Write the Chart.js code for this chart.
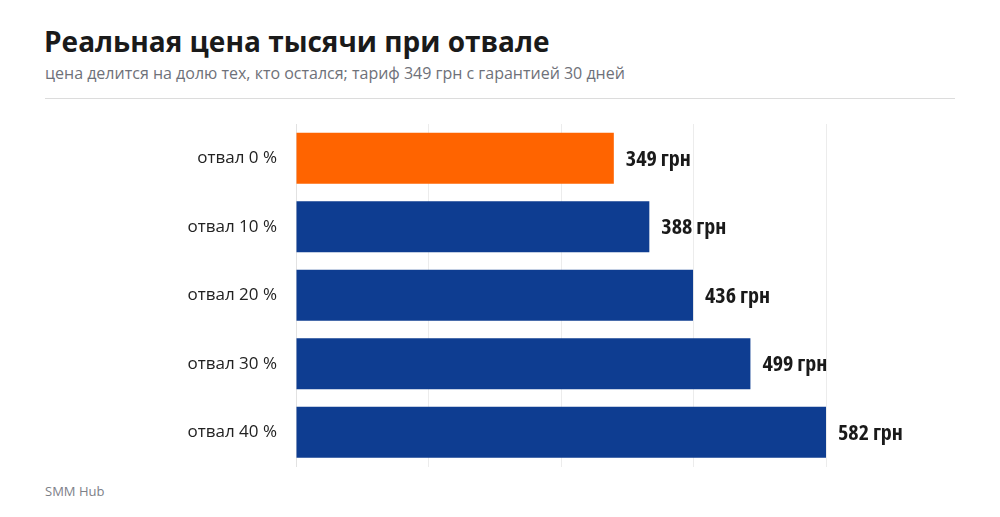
<!DOCTYPE html>
<html>
<head>
<meta charset="utf-8">
<script src="https://cdn.jsdelivr.net/npm/chart.js@4"></script>
<style>
  html, body { margin: 0; padding: 0; background: #fff; }
  body { width: 1000px; height: 517px; position: relative; overflow: hidden; font-family: 'Open Sans', sans-serif; }
  #title { position: absolute; left: 44px; top: 22px; font-size: 28px; font-weight: 700; color: #1a1a1a; white-space: nowrap; }
  #subtitle { position: absolute; left: 45px; top: 62px; font-size: 16px; color: #6e7179; white-space: nowrap; }
  #rule { position: absolute; left: 45px; top: 98px; width: 910px; height: 1px; background: #dcdcdc; }
  #footer { position: absolute; left: 45px; top: 482px; font-size: 13px; color: #7d8088; }
  #wrap { position: absolute; left: 0; top: 110px; width: 1000px; height: 370px; }
</style>
</head>
<body>
<div id="title">Реальная цена тысячи при отвале</div>
<div id="subtitle">цена делится на долю тех, кто остался; тариф 349 грн с гарантией 30 дней</div>
<div id="rule"></div>
<div id="wrap"><canvas id="barCanvas"></canvas></div>
<div id="footer">SMM Hub</div>
<script>
const categories = ['отвал 0 %', 'отвал 10 %', 'отвал 20 %', 'отвал 30 %', 'отвал 40 %'];
const prices = [349, 388, 436, 499, 582];
const barColors = ['#ff6400', '#0e3d91', '#0e3d91', '#0e3d91', '#0e3d91'];
const unit = ' грн';

const valueLabels = {
    id: 'valueLabels',
    afterDatasetsDraw(chart) {
        const ctx = chart.ctx;
        const meta = chart.getDatasetMeta(0);
        ctx.save();
        ctx.font = "bold 22px 'Open Sans'";
        try { ctx.fontStretch = 'semi-condensed'; } catch (e) {}
        ctx.fillStyle = '#1a1a1a';
        ctx.textAlign = 'left';
        ctx.textBaseline = 'middle';
        meta.data.forEach(function(bar, i) {
            ctx.fillText(prices[i] + unit, bar.x + 12, bar.y + 1);
        });
        ctx.restore();
    }
};

document.addEventListener("DOMContentLoaded", function(e) {
    const barCanvas = document.getElementById('barCanvas');
    new Chart(barCanvas, {
        type: 'bar',
        data: {
            labels: categories,
            datasets: [{
                data: prices,
                backgroundColor: barColors,
                barPercentage: 0.745,
                categoryPercentage: 1
            }]
        },
        options: {
            indexAxis: 'y',
            responsive: true,
            maintainAspectRatio: false,
            animation: false,
            layout: { padding: { top: 14, bottom: 13.5, right: 174, left: 0 } },
            scales: {
                x: {
                    min: 0,
                    max: 582,
                    ticks: { display: false, stepSize: 145.5 },
                    grid: { color: '#ececec', drawTicks: false },
                    border: { display: false },
                    afterFit(scale) { scale.height = 0; scale.paddingLeft = 0; scale.paddingRight = 0; }
                },
                y: {
                    grid: { display: false },
                    border: { display: true, color: '#e2e2e2' },
                    ticks: { color: '#222', padding: 11, font: { family: "'Open Sans'", size: 17 } },
                    afterFit(scale) { scale.width = 296; scale.paddingTop = 0; scale.paddingBottom = 0; }
                }
            },
            plugins: {
                legend: { display: false },
                tooltip: { enabled: false }
            }
        },
        plugins: [valueLabels]
    });
});
</script>
</body>
</html>
